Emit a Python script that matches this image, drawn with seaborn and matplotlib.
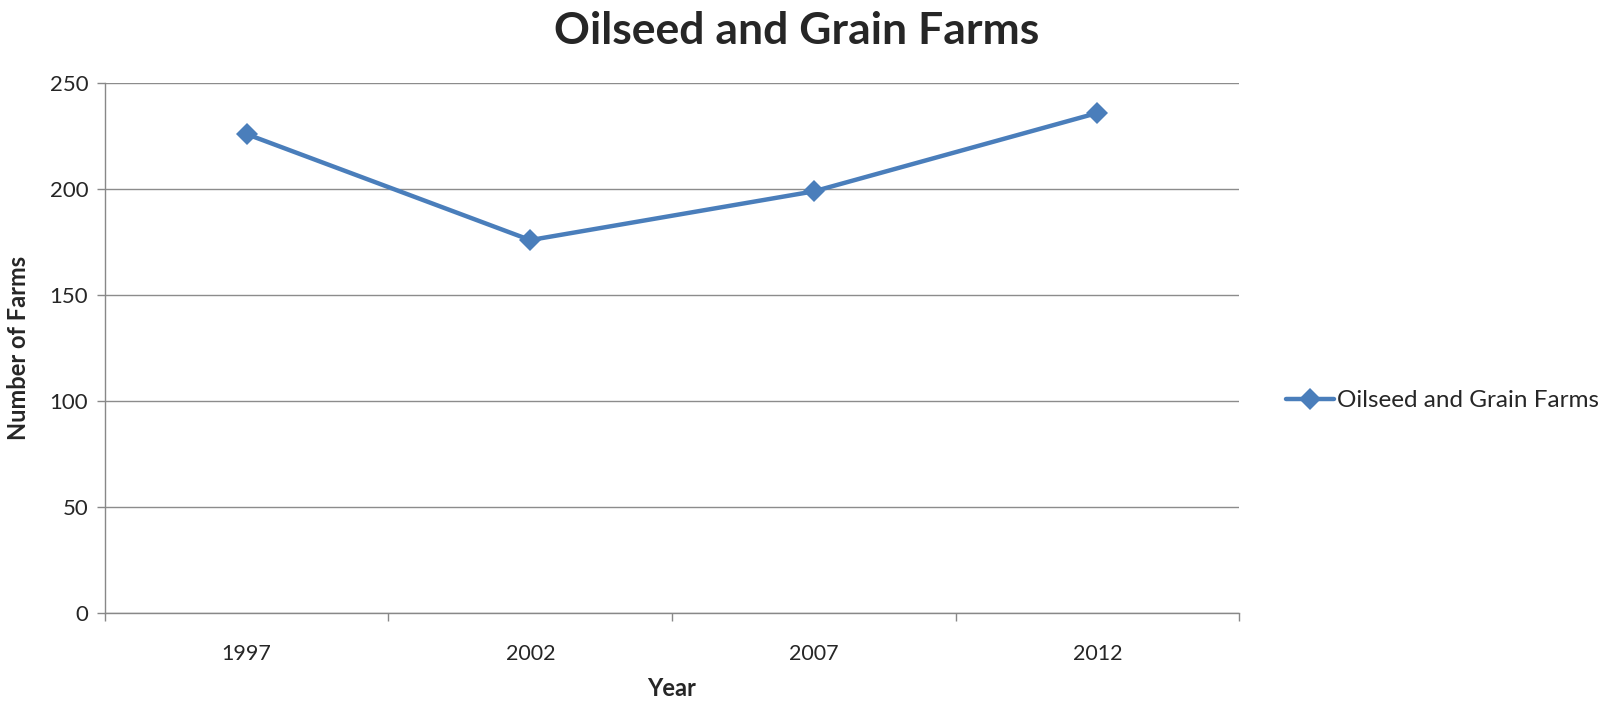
import matplotlib
matplotlib.use("Agg")
import matplotlib.pyplot as plt
import seaborn as sns
import numpy as np
import pandas as pd

years = ["1997", "2002", "2007", "2012"]
farms = [226, 176, 199, 236]
series_name = "Oilseed and Grain Farms"
y_ticks = [0, 50, 100, 150, 200, 250]

sns.set_style("white")
plt.rcParams['font.family'] = ['Lato', 'DejaVu Sans']

df = pd.DataFrame({"pos": np.arange(len(years)), "farms": farms, "series": series_name})

fig = plt.figure(figsize=(16.02, 7.03), dpi=100)
ax = fig.add_axes([0.0655, 0.128, 0.708, 0.7535])

color = "#4A7EBB"
sns.lineplot(data=df, x="pos", y="farms", hue="series", palette=[color], ax=ax,
             linewidth=3.2, marker="D", markersize=11, markeredgewidth=0)

ax.set_xlim(-0.5, len(years) - 0.5)
ax.set_ylim(0, 250)
ax.set_yticks(y_ticks)
ax.set_xticks(np.arange(len(years)))
ax.set_xticklabels(years)
ax.set_xticks(np.arange(len(years) + 1) - 0.5, minor=True)
ax.tick_params(axis="x", which="major", length=0, labelsize=15.5, pad=22)
ax.tick_params(axis="x", which="minor", length=6, color="#888888", width=1, bottom=True)
ax.tick_params(axis="y", length=6, color="#888888", width=1, labelsize=16, pad=6, left=True)

ax.grid(axis="y", color="#8c8c8c", linewidth=1)
ax.set_axisbelow(True)
for s in ["top", "right"]:
    ax.spines[s].set_visible(False)
for s in ["left", "bottom"]:
    ax.spines[s].set_color("#888888")
    ax.spines[s].set_linewidth(1)

ax.set_xlabel("Year", fontsize=17, fontweight="bold", labelpad=10)
ax.set_ylabel("Number of Farms", fontsize=17, fontweight="bold", labelpad=14)
fig.suptitle(series_name, fontsize=32, fontweight="bold", x=0.497, y=0.985)

handles, labels = ax.get_legend_handles_labels()
ax.legend(handles=handles, labels=labels, loc="center left", bbox_to_anchor=(0.789, 0.43),
          bbox_transform=fig.transFigure, frameon=False, fontsize=17.5, handlelength=2.0,
          handletextpad=0.1)

fig.savefig("out.png", dpi=100)
